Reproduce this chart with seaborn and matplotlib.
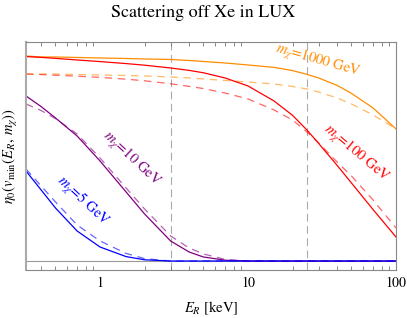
import matplotlib
matplotlib.use("Agg")
import matplotlib.pyplot as plt
import numpy as np
import seaborn as sns

# recoil energies [keV] at which the curves were read
energy = [0.316, 0.4, 0.5, 0.7, 1, 1.5, 2, 3, 4, 5, 7, 10, 15, 20, 25, 30, 40, 50, 70, 100]

# eta_0 (arbitrary units), solid = one halo, dashed = the other
eta_1000 = [1.025, 1.02, 1.02, 1.0175, 1.015, 1.0125, 1.01, 1.0075, 1.0025, 0.9975,
            0.99, 0.98, 0.968, 0.952, 0.933, 0.915, 0.878, 0.838, 0.765, 0.66]
eta_1000_d = [0.935, 0.935, 0.935, 0.9325, 0.93, 0.9275, 0.925, 0.92, 0.915, 0.91,
              0.9025, 0.895, 0.885, 0.8725, 0.86, 0.845, 0.815, 0.785, 0.73, 0.66]
eta_100 = [1.022, 1.018, 1.013, 1.005, 0.997, 0.987, 0.979, 0.965, 0.953, 0.941,
           0.915, 0.875, 0.80, 0.728, 0.655, 0.588, 0.478, 0.39, 0.257, 0.12]
eta_100_d = [0.935, 0.932, 0.929, 0.924, 0.918, 0.909, 0.901, 0.886, 0.873, 0.862,
             0.84, 0.81, 0.755, 0.705, 0.645, 0.59, 0.495, 0.425, 0.305, 0.165]
eta_10 = [0.825, 0.772, 0.715, 0.625, 0.50, 0.345, 0.235, 0.10, 0.045, 0.02,
          0.004, 0, 0, 0, 0, 0, 0, 0, 0, 0]
eta_10_d = [0.785, 0.752, 0.712, 0.635, 0.515, 0.365, 0.26, 0.125, 0.065, 0.035,
            0.008, 0, 0, 0, 0, 0, 0, 0, 0, 0]
eta_5 = [0.45, 0.355, 0.265, 0.15, 0.07, 0.022, 0.006, 0, 0, 0,
         0, 0, 0, 0, 0, 0, 0, 0, 0, 0]
eta_5_d = [0.46, 0.375, 0.295, 0.18, 0.10, 0.038, 0.012, 0, 0, 0,
           0, 0, 0, 0, 0, 0, 0, 0, 0, 0]

threshold_lines = [3, 25]  # keV

plt.rcParams["font.family"] = ["STIXGeneral", "DejaVu Serif"]
plt.rcParams["mathtext.fontset"] = "stix"

orange = (1.0, 0.55, 0.0)
red = (1.0, 0.0, 0.0)
purple = (0.5, 0.0, 0.5)
blue = (0.0, 0.0, 1.0)

fig = plt.figure(figsize=(4.07, 3.18), dpi=100)
ax = fig.add_axes([0.0639, 0.1525, 0.9091, 0.7155])

dash = (0, (6, 4.5))
series = [
    (eta_1000, eta_1000_d, orange),
    (eta_100, eta_100_d, red),
    (eta_10, eta_10_d, purple),
    (eta_5, eta_5_d, blue),
]
for solid, dashed, col in series:
    sns.lineplot(x=energy, y=dashed, ax=ax, color=col, alpha=0.6, lw=0.9, linestyle=dash)
    sns.lineplot(x=energy, y=solid, ax=ax, color=col, lw=0.9)

for e in threshold_lines:
    ax.axvline(e, color="#aaaaaa", lw=0.8, linestyle=(0, (7, 4)), zorder=0)
ax.axhline(0, color="#999999", lw=0.8, zorder=0)

ax.set_xscale("log")
ax.set_xlim(0.316, 100)
ax.set_ylim(-0.0425, 1.095)

ax.set_xticks([1, 10, 100])
ax.set_xticklabels(["1", "10", "100"])
minor = [m * d for d in (0.1, 1, 10) for m in range(2, 10) if 0.316 < m * d < 100]
ax.set_xticks(minor, minor=True)
ax.xaxis.set_minor_formatter(matplotlib.ticker.NullFormatter())
ax.tick_params(axis="x", which="major", length=0, labelsize=10, pad=5)
ax.tick_params(axis="x", which="minor", direction="in", length=3, width=0.6,
               color="#777777", top=True, bottom=True)
ax.set_yticks([])

for side in ["top", "right", "bottom"]:
    ax.spines[side].set_color("#888888")
    ax.spines[side].set_linewidth(0.8)
ax.spines["left"].set_color("#aaaaaa")
ax.spines["left"].set_linewidth(1.5)

lab_kw = dict(fontsize=10.5, ha="center", va="center")
ax.text(29.7, 1.0, r"$m_\chi$=1000 GeV", color=orange, rotation=-16, **lab_kw)
ax.text(54.0, 0.535, r"$m_\chi$=100 GeV", color=red, rotation=-40, **lab_kw)
ax.text(1.62, 0.51, r"$m_\chi$=10 GeV", color=purple, rotation=-43, **lab_kw)
ax.text(0.76, 0.295, r"$m_\chi$=5 GeV", color=blue, rotation=-43, **lab_kw)

ax.set_xlabel(r"$E_R$ [keV]", fontsize=10.5, labelpad=7)
ax.set_ylabel(r"$\eta_0(v_{\mathrm{min}}(E_R,\,m_\chi))$", fontsize=10.5, labelpad=4)
fig.suptitle("Scattering off Xe in LUX", fontsize=13, y=0.985)

fig.savefig("out.png", dpi=100)
